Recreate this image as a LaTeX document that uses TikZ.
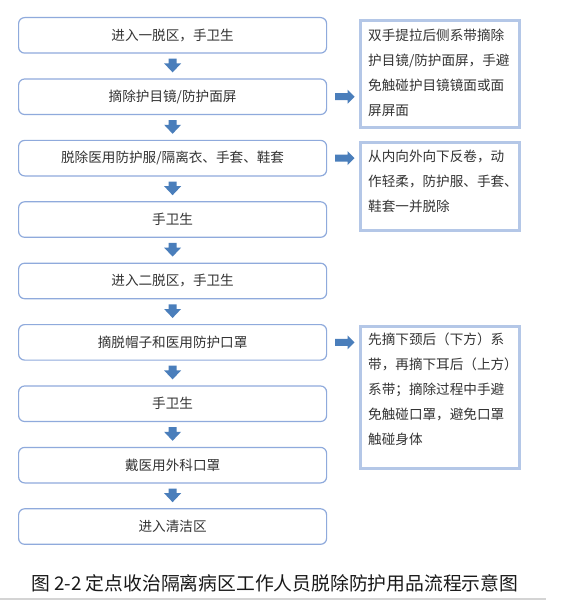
\documentclass[tikz,border=0pt]{standalone}
\usepackage{fontspec}
\setmainfont{Noto Sans CJK SC}
\newfontfamily\cjk{Noto Sans CJK SC}
\usetikzlibrary{calc}
\definecolor{boxline}{HTML}{8FAADC}
\definecolor{sideline}{HTML}{B4C7E7}
\definecolor{arrowc}{HTML}{4A7EBB}
\definecolor{txt}{HTML}{333333}
\definecolor{rulegray}{HTML}{D4D4D4}
\newcommand{\darr}[2]{%
  \fill[arrowc] ($(#1.south)+(-4,-5)$) -- ($(#1.south)+(4,-5)$)
    -- ($(#2.north)+(4,15)$) -- ($(#2.north)+(8.5,15)$)
    -- ($(#2.north)+(0,6)$) -- ($(#2.north)+(-8.5,15)$)
    -- ($(#2.north)+(-4,15)$) -- cycle;}
\newcommand{\rarr}[2]{%
  \fill[arrowc] ($(#1.east)+(8,3.5)$) -- ($(#2.west |- #1.east)+(-11,3.5)$)
    -- ($(#2.west |- #1.east)+(-11,7)$) -- ($(#2.west |- #1.east)+(-4,0)$)
    -- ($(#2.west |- #1.east)+(-11,-7)$) -- ($(#2.west |- #1.east)+(-11,-3.5)$)
    -- ($(#1.east)+(8,-3.5)$) -- cycle;}
\begin{document}
\begin{tikzpicture}[x=1pt,y=1pt,
  mainbox/.style={draw=boxline, line width=1.2pt, rounded corners=6pt,
    minimum width=308pt, minimum height=35.5pt, inner sep=0pt,
    anchor=north west, text=txt, font=\fontsize{13.6}{16}\selectfont},
  sidebox/.style={draw=sideline, line width=3pt, minimum width=159pt,
    inner sep=0pt, anchor=north west},
  sidetext/.style={anchor=north west, inner sep=0pt, align=left, text=txt,
    font=\fontsize{13.6}{25}\selectfont}]
\useasboundingbox (0,0) rectangle (565,-604);
\fill[white] (0,0) rectangle (565,-604);
% main flow
\node[mainbox] (b1) at (18,-17) {进入一脱区，手卫生};
\node[mainbox] (b2) at (18,-78.4) {摘除护目镜/防护面屏};
\node[mainbox] (b3) at (18,-139.8) {脱除医用防护服/隔离衣、手套、鞋套};
\node[mainbox] (b4) at (18,-201.2) {手卫生};
\node[mainbox] (b5) at (18,-262.6) {进入二脱区，手卫生};
\node[mainbox] (b6) at (18,-324) {摘脱帽子和医用防护口罩};
\node[mainbox] (b7) at (18,-385.4) {手卫生};
\node[mainbox] (b8) at (18,-446.8) {戴医用外科口罩};
\node[mainbox] (b9) at (18,-508.2) {进入清洁区};
\darr{b1}{b2}
\darr{b2}{b3}
\darr{b3}{b4}
\darr{b4}{b5}
\darr{b5}{b6}
\darr{b6}{b7}
\darr{b7}{b8}
\darr{b8}{b9}
% side notes
\node[sidebox, minimum height=107pt] (s1) at (358.5,-19.5) {};
\node[sidetext] (t1) at ($(s1.north west)+(9.5,-9)$)
  {双手提拉后侧系带摘除\\护目镜/防护面屏，手避\\免触碰护目镜镜面或面\\屏屏面};
\node[sidebox, minimum height=87pt] (s2) at (358.5,-141.5) {};
\node[sidetext] (t2) at ($(s2.north west)+(9.5,-8)$)
  {从内向外向下反卷，动\\作轻柔，防护服、手套\makebox[0.4em][l]{、}\\鞋套一并脱除};
\node[sidebox, minimum height=142pt] (s3) at (358.5,-324.5) {};
\node[sidetext] (t3) at ($(s3.north west)+(9.5,-8)$)
  {先摘下颈后（下方）系\\带，再摘下耳后（上方\makebox[0.4em][l]{）}\\系带；摘除过程中手避\\免触碰口罩，避免口罩\\触碰身体};
\rarr{b2}{s1}
\rarr{b3}{s2}
\rarr{b6}{s3}
% caption
\node[anchor=west, inner sep=0pt, text=black!90, font=\fontsize{18.8}{20}\selectfont]
  (cap) at (31,-583) {图 2-2 定点收治隔离病区工作人员脱除防护用品流程示意图};
\draw[rulegray, line width=1.5pt] (0,-599) -- (546,-599);
\end{tikzpicture}
\end{document}
